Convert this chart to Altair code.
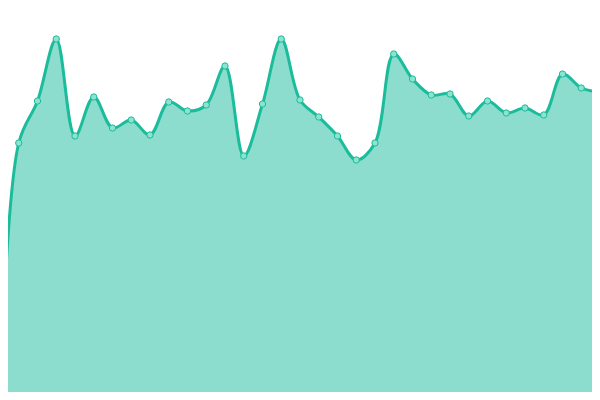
import altair as alt
import pandas as pd

idx = list(range(33))
values = [3, 257, 299, 361, 264, 303, 272, 280, 265, 298, 289, 295, 334, 244,
          296, 361, 300, 283, 264, 240, 257, 346, 321, 305, 306, 284, 299, 287,
          292, 285, 326, 312, 308]

df = pd.DataFrame({"i": idx, "v": values})

COLOR = "#1abc9c"

x = alt.X("i:Q", axis=None, scale=alt.Scale(domain=[0, 32], range=[-8, 592], nice=False, zero=False))
y = alt.Y("v:Q", axis=None, scale=alt.Scale(domain=[0, 400], range=[392, -8], nice=False))

base = alt.Chart(df)
area = base.mark_area(interpolate="catmull-rom", color=COLOR, opacity=0.5).encode(x=x, y=y)
line = base.mark_line(interpolate="catmull-rom", color=COLOR, strokeWidth=3).encode(x=x, y=y)
pts = base.mark_point(filled=False, fill="#8ee2d0", fillOpacity=1, stroke=COLOR,
                      strokeWidth=1, size=40, opacity=1).encode(x=x, y=y)

chart = (area + line + pts).properties(
    width=584, height=384, padding=0, autosize="none"
).configure_view(stroke=None)

chart.save("out.html", embed_options={"renderer": "svg", "actions": False})
